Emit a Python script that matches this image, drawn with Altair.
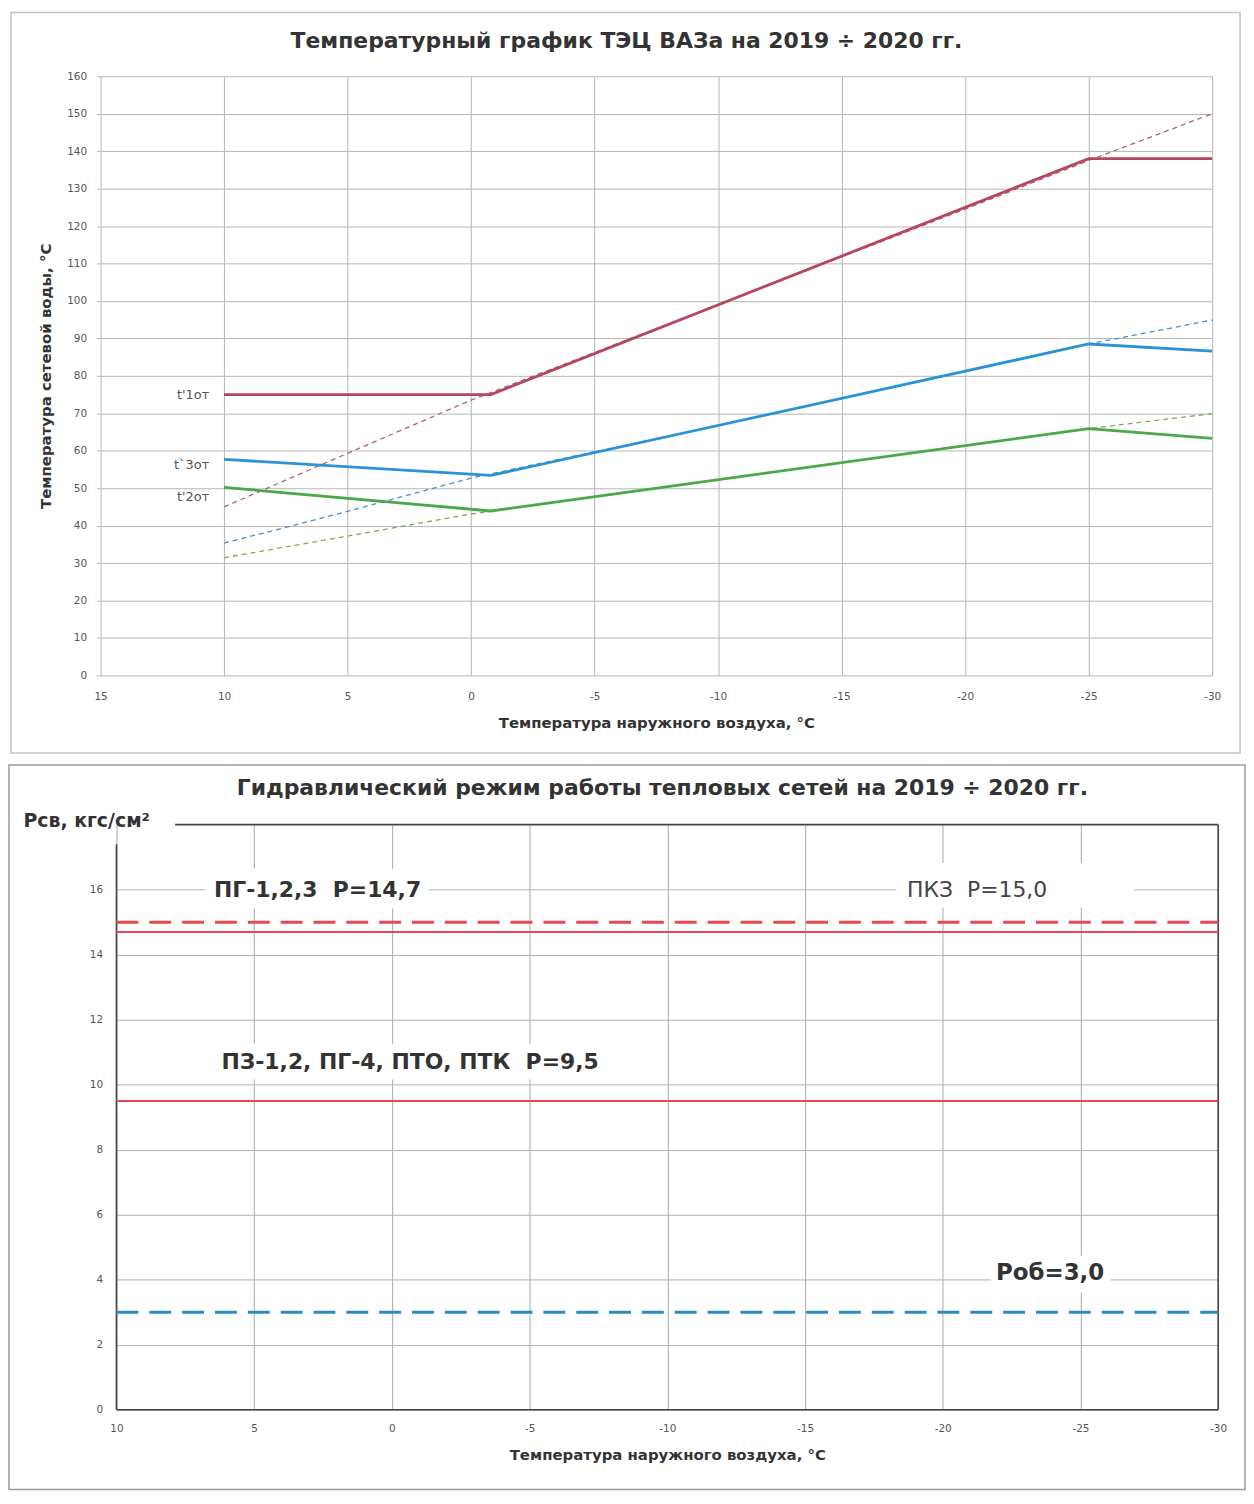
import altair as alt
import pandas as pd

FONT = "DejaVu Sans"

# ---------------- Top chart: temperature schedule ----------------
t_out_actual = [10, -0.8, -25, -30]
t1_actual = [75, 75, 138, 138]
t3_actual = [57.7, 53.4, 88.5, 86.6]
t2_actual = [50.2, 43.9, 65.9, 63.3]

t_out_design = [10, 5, 0, -10, -20, -25, -30]
t1_design = [45, 59.3, 73.5, 99, 124.5, 137.5, 150]
t3_design = [35.3, 43.8, 52.7, 66.7, 81.2, 88.5, 94.9]
t2_design = [31.4, 37.2, 43.1, 52.3, 61.4, 65.9, 69.9]

series_names = ["t'1от", "t`3от", "t'2от"]
series_label_y = [75, 56.3, 47.6]
series_label_x = [10.6, 10.6, 10.6]

top_title = "Температурный график ТЭЦ ВАЗа на 2019 ÷ 2020 гг."
top_y_title = "Температура сетевой воды, °С"
x_title = "Температура наружного воздуха, °С"
top_x_ticks = [15, 10, 5, 0, -5, -10, -15, -20, -25, -30]
top_y_ticks = [0, 10, 20, 30, 40, 50, 60, 70, 80, 90, 100, 110, 120, 130, 140, 150, 160]

# ---------------- Bottom chart: hydraulic mode ----------------
bottom_title = "Гидравлический режим работы тепловых сетей на 2019 ÷ 2020 гг."
bottom_y_title = "Рсв, кгс/см²"
bottom_x_ticks = [10, 5, 0, -5, -10, -15, -20, -25, -30]
bottom_y_ticks = [0, 2, 4, 6, 8, 10, 12, 14, 16]

p_names = ["ПКЗ", "ПГ-1,2,3", "ПЗ-1,2, ПГ-4, ПТО, ПТК", "Роб"]
p_levels = [15.0, 14.7, 9.5, 3.0]
p_from = [10, 10, 10, 10]
p_to = [-30, -30, -30, -30]

ann_text = ["ПГ-1,2,3 \u00a0Р=14,7", "ПКЗ \u00a0Р=15,0", "ПЗ-1,2, ПГ-4, ПТО, ПТК \u00a0Р=9,5", "Роб=3,0"]
ann_x = [2.7, -21.25, -0.66, -23.9]
ann_y = [16.0, 16.0, 10.7, 4.22]
box_x1 = [6.78, -18.29, 6.42, -21.76]
box_x2 = [-1.35, -26.96, -7.67, -26.1]
box_y1 = [15.42, 15.45, 10.16, 3.61]
box_y2 = [16.64, 16.82, 11.26, 4.74]

frame_x1 = [7.87, 10, -30, 10]
frame_x2 = [-30, 10, -30, -30]
frame_y1 = [18, 0, 0, 0]
frame_y2 = [18, 17.4, 18, 0]

# ---------------- build tables ----------------
rows = []
for name, ys in zip(series_names, [t1_actual, t3_actual, t2_actual]):
    for i, (x, y) in enumerate(zip(t_out_actual, ys)):
        rows.append({"x": x, "y": y, "series": name, "i": i})
actual_df = pd.DataFrame(rows)

rows = []
for name, ys in zip(series_names, [t1_design, t3_design, t2_design]):
    for i, (x, y) in enumerate(zip(t_out_design, ys)):
        rows.append({"x": x, "y": y, "series": name, "i": i})
design_df = pd.DataFrame(rows)

labels_df = pd.DataFrame({"x": series_label_x, "y": series_label_y, "series": series_names})

levels_df = pd.DataFrame({"name": p_names, "y": p_levels, "x": p_from, "x2": p_to})
ann_df = pd.DataFrame({"text": ann_text, "x": ann_x, "y": ann_y,
                       "bx1": box_x1, "bx2": box_x2, "by1": box_y1, "by2": box_y2})
frame_df = pd.DataFrame({"x": frame_x1, "x2": frame_x2, "y": frame_y1, "y2": frame_y2})
one = pd.DataFrame({"d": [0]})

# ---------------- top chart ----------------
top_colors = ["#b8455e", "#2a93d5", "#4aa84a"]
design_colors = ["#b0607a", "#4a8fc8", "#7aaa5a"]

top_xs = alt.Scale(domain=[-30, 15], reverse=True, nice=False, zero=False)
top_ys = alt.Scale(domain=[0, 160], nice=False)

top_x_axis = alt.Axis(values=top_x_ticks, labelExpr="'' + datum.value", grid=True,
                      gridColor="#b5b5b5", domain=False, ticks=False, labelPadding=16,
                      labelFlush=False, labelFont=FONT, labelFontSize=10.5, labelColor="#555",
                      title=x_title, titleFont=FONT, titleFontSize=15, titleFontWeight="bold",
                      titleColor="#333", titlePadding=14)
top_y_axis = alt.Axis(values=top_y_ticks, grid=True, gridColor="#b5b5b5", domain=False,
                      ticks=True, tickSize=4, tickColor="#b5b5b5", labelPadding=10,
                      labelFlush=False, labelFont=FONT, labelFontSize=10.5, labelColor="#555",
                      title=top_y_title, titleFont=FONT, titleFontSize=15, titleFontWeight="bold",
                      titleColor="#333", titlePadding=13)

X_top = alt.X("x:Q", scale=top_xs, axis=top_x_axis)
Y_top = alt.Y("y:Q", scale=top_ys, axis=top_y_axis)

top_frame = alt.Chart(one).mark_rect(fill="white", fillOpacity=0, stroke="#c4c4c4", strokeWidth=1.5).encode(
    x=alt.value(-90), x2=alt.value(1145), y=alt.value(-64), y2=alt.value(680))

design_lines = alt.Chart(design_df).mark_line(strokeWidth=1.3, strokeDash=[5, 4]).encode(
    x=X_top, y=Y_top,
    color=alt.Color("series:N", scale=alt.Scale(domain=series_names, range=design_colors), legend=None),
    order=alt.Order("i:Q"))

actual_lines = alt.Chart(actual_df).mark_line(strokeWidth=2.8).encode(
    x=X_top, y=Y_top,
    color=alt.Color("series:N", scale=alt.Scale(domain=series_names, range=top_colors), legend=None),
    order=alt.Order("i:Q"))

series_labels = alt.Chart(labels_df).mark_text(align="right", baseline="middle", font=FONT,
                                               fontSize=13, color="#555").encode(
    x=X_top, y=Y_top, text="series:N")

top = alt.layer(top_frame, design_lines, actual_lines, series_labels).resolve_scale(
    color="independent").properties(
    width=1117, height=602,
    title=alt.TitleParams(top_title, font=FONT, fontSize=22, fontWeight="bold", color="#333",
                          frame="group", anchor="middle", dx=-30, offset=-41))

# ---------------- bottom chart ----------------
bot_xs = alt.Scale(domain=[-30, 10], reverse=True, nice=False, zero=False)
bot_ys = alt.Scale(domain=[0, 18], nice=False)

bot_x_axis = alt.Axis(values=bottom_x_ticks, labelExpr="'' + datum.value", grid=True,
                      gridColor="#a8a8a8", domain=False, ticks=False, labelPadding=14,
                      labelFlush=False, labelFont=FONT, labelFontSize=10.5, labelColor="#555",
                      title=x_title, titleFont=FONT, titleFontSize=15, titleFontWeight="bold",
                      titleColor="#333", titlePadding=13)
bot_y_axis = alt.Axis(values=bottom_y_ticks, grid=True, gridColor="#b0b0b0", domain=False,
                      ticks=False, labelPadding=14, labelFlush=False, labelFont=FONT,
                      labelFontSize=10.5, labelColor="#555",
                      title=bottom_y_title, titleFont=FONT, titleFontSize=19, titleFontWeight="bold",
                      titleColor="#333", titleAngle=0, titleAlign="left", titleBaseline="middle",
                      titleX=-94, titleY=-4)

X_b = alt.X("x:Q", scale=bot_xs, axis=bot_x_axis)
Y_b = alt.Y("y:Q", scale=bot_ys, axis=bot_y_axis)

bot_frame = alt.Chart(one).mark_rect(fill="white", fillOpacity=0, stroke="#9a9a9a", strokeWidth=1.5).encode(
    x=alt.value(-108), x2=alt.value(1134), y=alt.value(-60), y2=alt.value(668))

plot_border = alt.Chart(frame_df).mark_rule(color="#444", strokeWidth=1.6).encode(
    x=X_b, x2="x2:Q", y=Y_b, y2="y2:Q")

boxes = alt.Chart(ann_df).mark_rect(fill="white").encode(
    x=alt.X("bx1:Q", scale=bot_xs, axis=bot_x_axis), x2="bx2:Q",
    y=alt.Y("by1:Q", scale=bot_ys, axis=bot_y_axis), y2="by2:Q")

red = "#e8474f"
blue = "#2b8cc4"
lvl = alt.Chart(levels_df)
pkz = lvl.transform_filter(alt.datum.name == p_names[0]).mark_rule(
    color=red, strokeWidth=3, strokeDash=[22, 11]).encode(x=X_b, x2="x2:Q", y=Y_b)
pg = lvl.transform_filter(alt.datum.name == p_names[1]).mark_rule(
    color=red, strokeWidth=2).encode(x=X_b, x2="x2:Q", y=Y_b)
pz = lvl.transform_filter(alt.datum.name == p_names[2]).mark_rule(
    color=red, strokeWidth=2).encode(x=X_b, x2="x2:Q", y=Y_b)
rob = lvl.transform_filter(alt.datum.name == p_names[3]).mark_rule(
    color=blue, strokeWidth=3, strokeDash=[22, 11]).encode(x=X_b, x2="x2:Q", y=Y_b)

ann = alt.Chart(ann_df)
t_pg = ann.transform_filter(alt.datum.text == ann_text[0]).mark_text(
    font=FONT, fontSize=22, fontWeight="bold", color="#333", baseline="middle").encode(x=X_b, y=Y_b, text="text:N")
t_pkz = ann.transform_filter(alt.datum.text == ann_text[1]).mark_text(
    font=FONT, fontSize=22, fontWeight="normal", color="#444", baseline="middle").encode(x=X_b, y=Y_b, text="text:N")
t_pz = ann.transform_filter(alt.datum.text == ann_text[2]).mark_text(
    font=FONT, fontSize=22, fontWeight="bold", color="#333", baseline="middle").encode(x=X_b, y=Y_b, text="text:N")
t_rob = ann.transform_filter(alt.datum.text == ann_text[3]).mark_text(
    font=FONT, fontSize=23, fontWeight="bold", color="#333", baseline="middle").encode(x=X_b, y=Y_b, text="text:N")

bottom = alt.layer(bot_frame, boxes, plot_border, pg, pz, pkz, rob, t_pg, t_pkz, t_pz, t_rob).properties(
    width=1107, height=588,
    title=alt.TitleParams(bottom_title, font=FONT, fontSize=22, fontWeight="bold", color="#333",
                          frame="group", anchor="middle", dx=-5, offset=-36))

# invisible spacer that shifts the lower plot 16 px right of the upper one
spacer = alt.Chart(one).mark_point(opacity=0).properties(width=16, height=588)
bottom_row = alt.hconcat(spacer, bottom, spacing=0, bounds="flush")

chart = alt.vconcat(top, bottom_row, spacing=10).properties(padding=0).configure_view(stroke=None)

chart.save("out.html", embed_options={"renderer": "svg", "actions": False})
